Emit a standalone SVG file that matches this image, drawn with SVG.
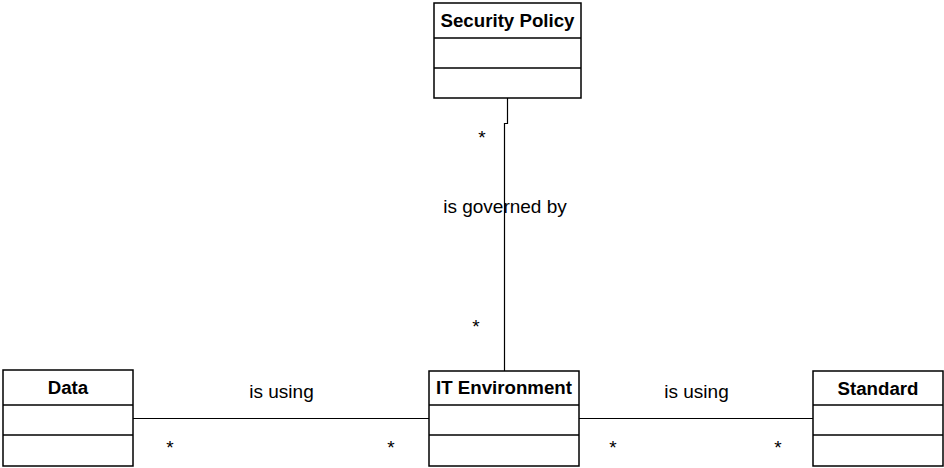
<svg xmlns="http://www.w3.org/2000/svg" width="944" height="468" viewBox="0 0 944 468">
  <style>
    .box { fill: #ffffff; stroke: #000000; stroke-width: 1.5; }
    .div { stroke: #000000; stroke-width: 1.5; }
    .title { font-family: "Liberation Sans", Arial, sans-serif; font-size: 18.7px; font-weight: bold; fill: #000000; text-anchor: middle; }
    .label { font-family: "Liberation Sans", Arial, sans-serif; font-size: 19px; fill: #000000; text-anchor: middle; }
    .edge { fill: none; stroke: #000000; stroke-width: 1.2; }
  </style>
  <rect width="944" height="468" fill="#ffffff"/>

  <!-- associations -->
  <g id="connectors">
    <path class="edge" d="M507.5,98 V123.5 H504.5 V371"/>
    <path class="edge" d="M133,418.5 H429"/>
    <path class="edge" d="M579,418.5 H813"/>
    <text class="label" x="505" y="213">is governed by</text>
    <text class="label" x="482" y="144">*</text>
    <text class="label" x="476" y="333">*</text>
    <text class="label" x="281.5" y="397.5">is using</text>
    <text class="label" x="696.5" y="397.5">is using</text>
    <text class="label" x="170" y="454">*</text>
    <text class="label" x="391" y="454">*</text>
    <text class="label" x="613" y="454">*</text>
    <text class="label" x="778" y="454">*</text>
  </g>

  <!-- classes -->
  <g id="security-policy">
    <rect class="box" x="434" y="3" width="147" height="95"/>
    <line class="div" x1="434" y1="38" x2="581" y2="38"/>
    <line class="div" x1="434" y1="68" x2="581" y2="68"/>
    <text class="title" x="507.5" y="27">Security Policy</text>
  </g>

  <g id="data">
    <rect class="box" x="3" y="370" width="130" height="96"/>
    <line class="div" x1="3" y1="405" x2="133" y2="405"/>
    <line class="div" x1="3" y1="435" x2="133" y2="435"/>
    <text class="title" x="68" y="394">Data</text>
  </g>

  <g id="it-environment">
    <rect class="box" x="429" y="371" width="150" height="95"/>
    <line class="div" x1="429" y1="405" x2="579" y2="405"/>
    <line class="div" x1="429" y1="435" x2="579" y2="435"/>
    <text class="title" x="504" y="394">IT Environment</text>
  </g>

  <g id="standard">
    <rect class="box" x="813" y="371" width="130" height="95"/>
    <line class="div" x1="813" y1="405" x2="943" y2="405"/>
    <line class="div" x1="813" y1="435" x2="943" y2="435"/>
    <text class="title" x="878" y="394.5">Standard</text>
  </g>
</svg>
